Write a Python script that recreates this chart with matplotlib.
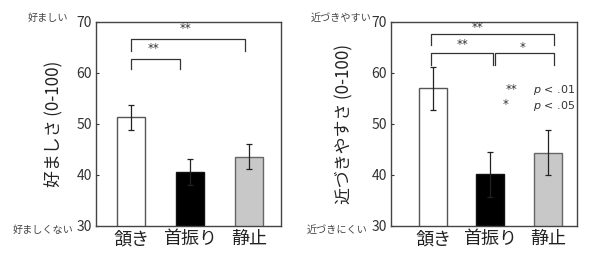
import matplotlib.pyplot as plt

plt.rcParams['font.family'] = ['Noto Sans CJK JP', 'DejaVu Sans']

# Data
categories = ['頷き', '首振り', '静止']
pref_mean = [51.3, 40.6, 43.6]
pref_err = [2.5, 2.5, 2.4]
appr_mean = [57.0, 40.1, 44.4]
appr_err = [4.2, 4.4, 4.4]
yticks = [30, 40, 50, 60, 70]

bar_faces = ['white', 'black', '#c8c8c8']
bar_edges = ['#555555', '#111111', '#666666']
dark = '#333333'


def draw_panel(ax, means, errs, ylabel, xlim, width, label_x):
    x = [1, 2, 3]
    ax.bar(x, means, width=width, color=bar_faces, edgecolor=bar_edges, linewidth=1.0, zorder=2)
    ax.errorbar(x, means, yerr=errs, fmt='none', ecolor='#222222', elinewidth=0.9,
                capsize=2.5, capthick=0.9, zorder=3)
    ax.set_xlim(*xlim)
    ax.set_ylim(30, 70)
    ax.set_yticks(yticks)
    ax.set_xticks(x)
    ax.set_xticklabels(categories, fontsize=13, color='#222222')
    ax.tick_params(axis='x', length=0, pad=3)
    ax.tick_params(axis='y', direction='in', length=2.5, labelsize=10, colors=dark, pad=3)
    for s in ax.spines.values():
        s.set_color('#444444')
        s.set_linewidth(1.0)
    ax.set_ylabel(ylabel, fontsize=12.2, color='#222222')
    ax.yaxis.set_label_coords(label_x, 0.5)


def bracket(ax, x0, x1, y_top, y_left, y_right):
    ax.plot([x0, x0, x1, x1], [y_left, y_top, y_top, y_right], color='#333333', lw=0.9,
            clip_on=False, zorder=4)


fig = plt.figure(figsize=(5.9, 2.64), dpi=100)
ax1 = fig.add_axes([96 / 590, 38 / 264, 185 / 590, 204 / 264])
ax2 = fig.add_axes([391 / 590, 38 / 264, 186 / 590, 204 / 264])

draw_panel(ax1, pref_mean, pref_err, '好ましさ (0-100)', (0.407, 3.543), 0.475, -0.178)
draw_panel(ax2, appr_mean, appr_err, '近づきやすさ (0-100)', (0.270, 3.505), 0.487, -0.204)

# significance brackets, left panel
star_kw = dict(ha='center', va='center', fontsize=8.5, color='#333333', family='DejaVu Sans')
bracket(ax1, 1.0, 2.93, 66.7, 64.3, 64.3)
ax1.text(1.92, 68.7, '**', **star_kw)
bracket(ax1, 1.0, 1.83, 62.7, 60.8, 60.8)
ax1.text(1.39, 64.8, '**', **star_kw)

# significance brackets, right panel
bracket(ax2, 0.97, 3.10, 67.6, 65.5, 65.5)
ax2.text(1.78, 68.9, '**', **star_kw)
bracket(ax2, 0.97, 2.04, 64.0, 61.6, 61.6)
bracket(ax2, 2.08, 3.10, 64.0, 61.6, 61.6)
ax2.text(1.52, 65.6, '**', **star_kw)
ax2.text(2.55, 65.0, '*', **star_kw)

# p-value key
ax2.text(2.36, 56.8, '**', **star_kw)
ax2.text(2.27, 53.9, '*', **star_kw)
ax2.text(2.74, 56.7, '$p$ < .01', fontsize=8, color='#333333', va='center', family='DejaVu Sans')
ax2.text(2.74, 53.6, '$p$ < .05', fontsize=8, color='#333333', va='center', family='DejaVu Sans')

# anchor labels beside the axes
side_kw = dict(ha='right', va='center', fontsize=7.3, color='#444444')
fig.text(68 / 590, 1 - 18 / 264, '好ましい', **side_kw)
fig.text(73 / 590, 1 - 230 / 264, '好ましくない', **side_kw)
fig.text(371 / 590, 1 - 18 / 264, '近づきやすい', **side_kw)
fig.text(367 / 590, 1 - 230 / 264, '近づきにくい', **side_kw)

fig.savefig('out.png', dpi=100)
plt.close(fig)
